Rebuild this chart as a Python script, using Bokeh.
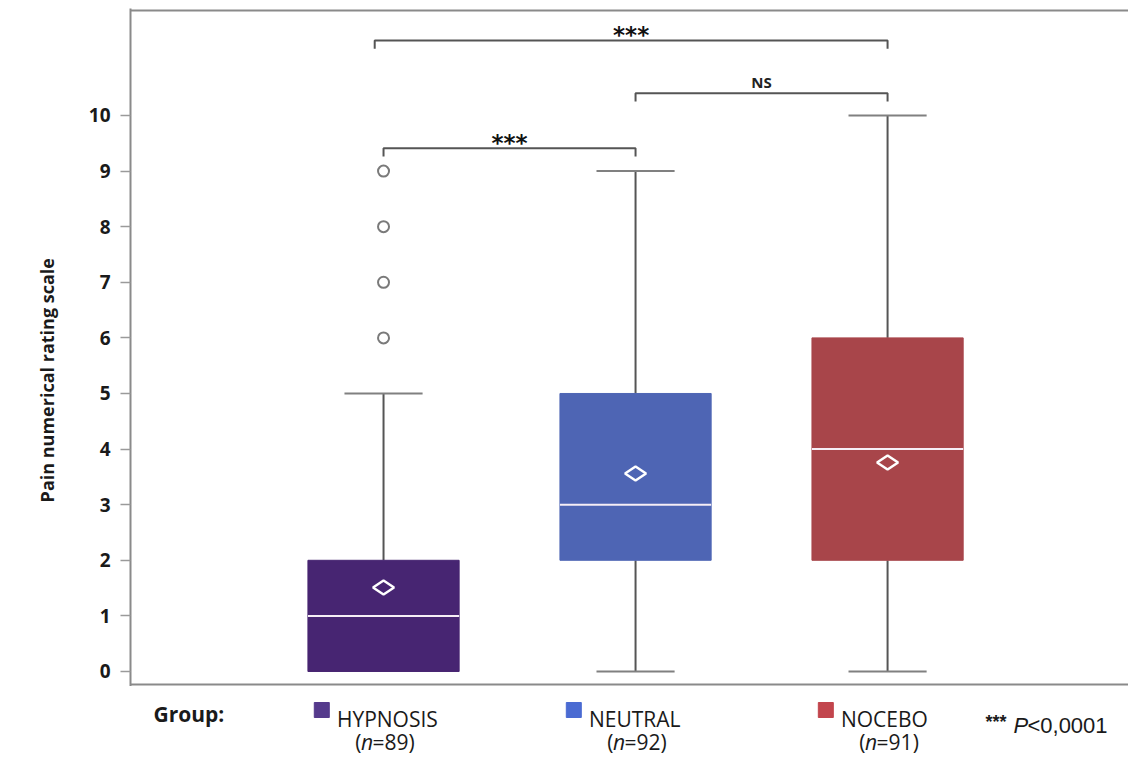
import math
from bokeh.plotting import figure
from bokeh.layouts import column
from bokeh.models import Span, Label, FixedTicker, ColumnDataSource
from bokeh.core.properties import value
from bokeh.embed import file_html
from bokeh.resources import INLINE

# ---- data ----
groups = ["HYPNOSIS", "NEUTRAL", "NOCEBO"]
n_sizes = [89, 92, 91]
q1 = [0, 2, 2]
median = [1, 3, 4]
q3 = [2, 5, 6]
whisk_lo = [0, 0, 0]
whisk_hi = [5, 9, 10]
means = [1.51, 3.56, 3.76]
outlier_group = [0, 0, 0, 0]
outlier_vals = [6, 7, 8, 9]
box_colors = ["#472572", "#4e65b4", "#a8454a"]
legend_colors = ["#553a8c", "#4a6bd2", "#c2454d"]
y_ticks = [0, 1, 2, 3, 4, 5, 6, 7, 8, 9, 10]
# significance brackets: (left group, right group, level, label)
br_left = [0, 0, 1]
br_right = [2, 1, 2]
br_level = [11.35, 9.41, 10.40]
br_label = ["***", "***", "NS"]
p_note = "<0,0001"
y_title = "Pain numerical rating scale"

xs = [i + 1 for i in range(len(groups))]
BW = 0.6
CAP = 0.31
X_RANGE = (-0.004, 3.956)

p = figure(width=1128, height=686, output_backend="svg", toolbar_location=None,
           x_range=X_RANGE, y_range=(-0.270, 11.924),
           min_border_left=130, min_border_right=0, min_border_top=8,
           min_border_bottom=0)
p.outline_line_color = None
p.grid.visible = False
p.xaxis.visible = False
p.background_fill_color = "white"
p.border_fill_color = "white"

p.yaxis.ticker = FixedTicker(ticks=y_ticks)
p.yaxis.minor_tick_line_color = None
p.yaxis.major_tick_in = 0
p.yaxis.major_tick_out = 10
p.yaxis.major_tick_line_color = "#9a9a9a"
p.yaxis.major_tick_line_width = 1.5
p.yaxis.axis_line_color = "#8a8a8a"
p.yaxis.axis_line_width = 2
p.yaxis.major_label_text_font = "Open Sans"
p.yaxis.major_label_text_font_style = "bold"
p.yaxis.major_label_text_font_size = "19px"
p.yaxis.major_label_text_color = "#1a1a1a"
p.yaxis.major_label_standoff = 10
# trailing non-breaking spaces shift the visible title a little below the axis centre
p.yaxis.axis_label = y_title + "\u00a0" * 14
p.yaxis.axis_label_text_font = "Open Sans"
p.yaxis.axis_label_text_font_style = "bold"
p.yaxis.axis_label_text_font_size = "18px"
p.yaxis.axis_label_text_color = "#1a1a1a"
p.yaxis.axis_label_standoff = 27

# frame lines (top and bottom)
p.add_layout(Span(location=11.888, dimension="width", line_color="#8a8a8a", line_width=2))
p.add_layout(Span(location=-0.234, dimension="width", line_color="#8a8a8a", line_width=2))

# whiskers
wx, wy0, wy1 = [], [], []
cx0, cx1, cy = [], [], []
for i, x in enumerate(xs):
    if whisk_hi[i] > q3[i]:
        wx.append(x); wy0.append(q3[i]); wy1.append(whisk_hi[i])
        cx0.append(x - CAP / 2); cx1.append(x + CAP / 2); cy.append(whisk_hi[i])
    if whisk_lo[i] < q1[i]:
        wx.append(x); wy0.append(q1[i]); wy1.append(whisk_lo[i])
        cx0.append(x - CAP / 2); cx1.append(x + CAP / 2); cy.append(whisk_lo[i])
p.segment(x0=wx, y0=wy0, x1=wx, y1=wy1, line_color="#555555", line_width=2)
p.segment(x0=cx0, y0=cy, x1=cx1, y1=cy, line_color="#808080", line_width=2)

# boxes
src = ColumnDataSource(dict(x=xs, q1=q1, q3=q3, med=median, mean=means, color=box_colors))
p.vbar(x="x", width=BW, bottom="q1", top="q3", fill_color="color",
       line_color="color", line_width=1, source=src)
p.segment(x0=[x - BW / 2 for x in xs], y0=median, x1=[x + BW / 2 for x in xs], y1=median,
          line_color="#f6eef6", line_width=2)
p.scatter(x="x", y="mean", marker="diamond", size=21, angle=math.pi / 2,
          fill_color=None, line_color="white", line_width=2.5, source=src)

# outliers
p.scatter(x=[xs[g] for g in outlier_group], y=outlier_vals, marker="circle", size=11,
          fill_color="white", line_color="#7a7a7a", line_width=2)

# significance brackets
tick = 0.15
for l, r, lev, lab in zip(br_left, br_right, br_level, br_label):
    x0 = xs[l] - (0.035 if (r - l) > 1 else 0)
    x1 = xs[r]
    p.line(x=[x0, x0, x1, x1], y=[lev - tick, lev, lev, lev - tick],
           line_color="#555555", line_width=2)
    if lab == "NS":
        p.add_layout(Label(x=(x0 + x1) / 2, y=lev + 0.21, text=lab, text_align="center",
                           text_baseline="middle", text_font="Open Sans",
                           text_font_style="bold", text_font_size="15px", text_color="#222222"))
    else:
        p.add_layout(Label(x=(x0 + x1) / 2, y=lev + 0.10, text=lab, text_align="center",
                           text_baseline="middle", text_font="DejaVu Sans",
                           text_font_style="bold", text_font_size="23px", text_color="#111111"))

# ---- legend row (separate strip below the plot, sharing the x scale; y in pixels from page top) ----
lg = figure(width=1128, height=77, output_backend="svg", toolbar_location=None,
            x_range=p.x_range, y_range=(763, 686),
            min_border_left=130, min_border_right=0, min_border_top=0, min_border_bottom=0)
lg.axis.visible = False
lg.grid.visible = False
lg.outline_line_color = None
lg.border_fill_color = "white"


def txt(x, y, t, size="21px", style="normal", align="left", font="Open Sans", color="#1a1a1a"):
    lg.text(x=[x], y=[y], text=[t], text_align=align, text_baseline="middle",
            text_font=value(font), text_font_style=style, text_font_size=size,
            text_color=color)


txt(0.087, 713, "Group:", style="bold")
lg.scatter(x=[x - 0.245 for x in xs], y=[709.5] * len(xs), marker="square", size=15,
           fill_color=legend_colors, line_color=legend_colors)
for i, x in enumerate(xs):
    txt(x - 0.185, 718, groups[i])
    nx = x - 0.0655
    txt(nx - 0.022, 741, "(", align="right")
    txt(nx, 741, "n", style="italic", align="center")
    txt(nx + 0.022, 741, "=%d)" % n_sizes[i])

txt(3.389, 721, "***", size="18px", style="bold", font="Liberation Sans")
txt(3.50, 725, "P", size="22px", style="italic", font="Liberation Sans")
txt(3.555, 725, p_note, size="22px", font="Liberation Sans")

layout = column(p, lg, spacing=0)
open("out.html", "w").write(file_html(layout, INLINE))
